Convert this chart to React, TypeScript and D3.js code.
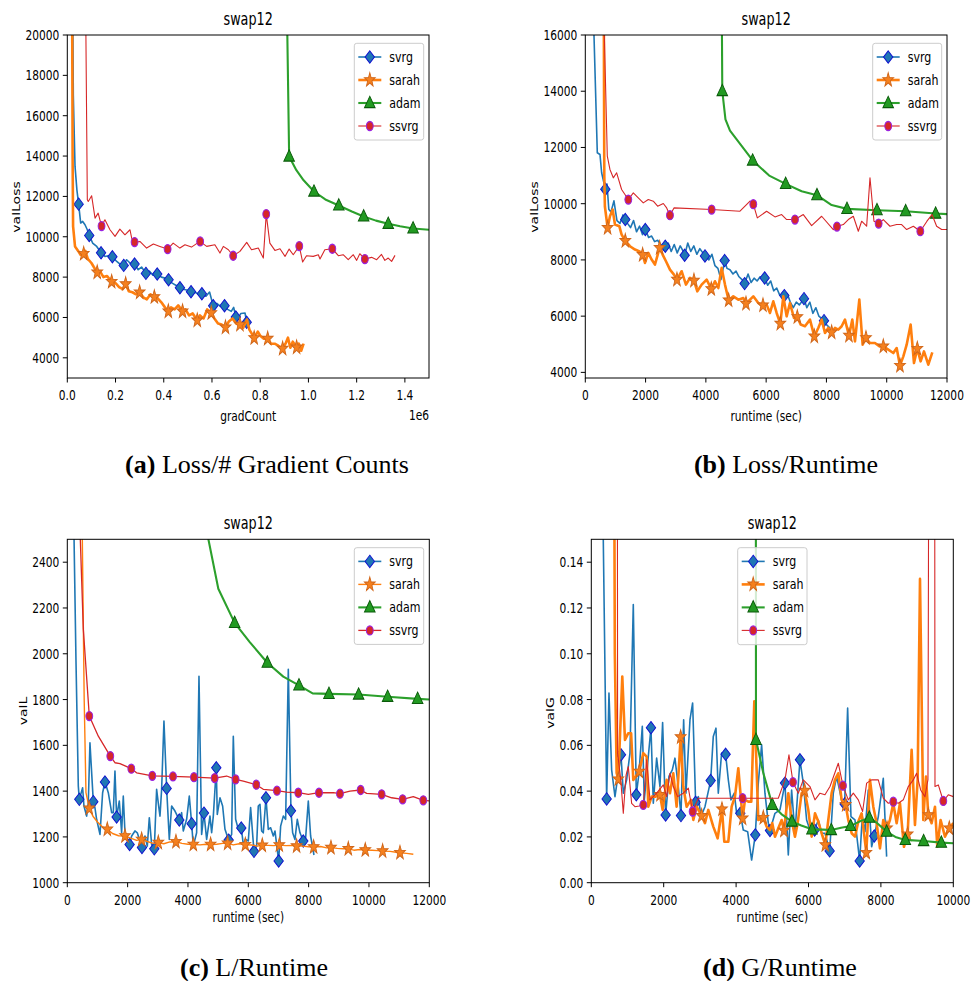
import React from 'react';
import * as d3 from 'd3';

type P = [number, number];

// ---------- Panel (a): valLoss vs gradCount (x in units of 1e6) ----------
const aXTicks = [0, 0.2, 0.4, 0.6, 0.8, 1.0, 1.2, 1.4];
const aYTicks = [4000, 6000, 8000, 10000, 12000, 14000, 16000, 18000, 20000];

const aSvrgLine: P[] = [[0.018, 30000], [0.025, 17000], [0.032, 13500], [0.04, 12300], [0.047, 11617], [0.0555, 10679], [0.0638, 10759], [0.0734, 10595], [0.083, 10348], [0.091, 10066], [0.105, 9690], [0.122, 9521], [0.14, 9208], [0.156, 9026], [0.17, 9060], [0.187, 9010], [0.205, 8778], [0.221, 8615], [0.234, 8581], [0.246, 8862], [0.26, 8697], [0.279, 8647], [0.294, 8367], [0.308, 8500], [0.326, 8185], [0.34, 8300], [0.355, 8100], [0.373, 8152], [0.39, 8000], [0.405, 7950], [0.42, 7871], [0.435, 7700], [0.45, 7600], [0.467, 7475], [0.48, 7400], [0.5, 7350], [0.513, 7277], [0.53, 7250], [0.545, 7150], [0.558, 7178], [0.575, 7050], [0.59, 7260], [0.605, 6584], [0.62, 6700], [0.635, 6550], [0.652, 6584], [0.665, 6400], [0.68, 6300], [0.69, 6500], [0.699, 6023], [0.71, 6000], [0.72, 6200], [0.737, 6221], [0.744, 5759], [0.75, 5700]];
const aSvrgMarks: P[] = [[0.047, 11617], [0.091, 10066], [0.14, 9208], [0.187, 9010], [0.234, 8581], [0.279, 8647], [0.326, 8185], [0.373, 8152], [0.42, 7871], [0.467, 7475], [0.513, 7277], [0.558, 7178], [0.605, 6584], [0.652, 6584], [0.699, 6023], [0.744, 5759]];

const aSarahLine: P[] = [[0.018, 30000], [0.022, 14000], [0.024, 10510], [0.032, 9520], [0.045, 9300], [0.055, 9100], [0.068, 9158], [0.075, 9300], [0.085, 8900], [0.1, 8700], [0.11, 8500], [0.124, 8234], [0.135, 8300], [0.15, 8000], [0.165, 8050], [0.184, 7772], [0.2, 7700], [0.215, 7500], [0.23, 7400], [0.242, 7657], [0.255, 7300], [0.27, 7250], [0.285, 7150], [0.3, 7244], [0.315, 7000], [0.33, 6900], [0.345, 7150], [0.361, 7013], [0.375, 6950], [0.39, 6750], [0.405, 6500], [0.419, 6304], [0.43, 6500], [0.445, 6400], [0.46, 6600], [0.478, 6304], [0.49, 6400], [0.505, 6100], [0.52, 6200], [0.539, 5858], [0.55, 6100], [0.565, 5950], [0.58, 6400], [0.597, 6221], [0.61, 5950], [0.625, 5700], [0.64, 5650], [0.656, 5512], [0.67, 5800], [0.685, 5950], [0.7, 5700], [0.716, 5644], [0.73, 5500], [0.745, 5900], [0.755, 5400], [0.765, 5200], [0.775, 4984], [0.79, 5300], [0.8, 5100], [0.815, 4950], [0.831, 4950], [0.845, 4700], [0.86, 4700], [0.875, 4600], [0.893, 4455], [0.905, 4700], [0.915, 5000], [0.925, 4500], [0.935, 4800], [0.951, 4521], [0.96, 4700], [0.97, 4350], [0.98, 4700]];
const aSarahMarks: P[] = [[0.068, 9158], [0.124, 8234], [0.184, 7772], [0.242, 7657], [0.3, 7244], [0.361, 7013], [0.419, 6304], [0.478, 6304], [0.539, 5858], [0.597, 6221], [0.656, 5512], [0.716, 5644], [0.775, 4984], [0.831, 4950], [0.893, 4455], [0.951, 4521]];

const aAdamLine: P[] = [[0.9, 30000], [0.92, 13977], [0.95, 13300], [0.98, 12800], [1.023, 12244], [1.07, 11850], [1.126, 11551], [1.18, 11250], [1.229, 11007], [1.28, 10800], [1.331, 10644], [1.38, 10520], [1.434, 10413], [1.5, 10350]];
const aAdamMarks: P[] = [[0.92, 13977], [1.023, 12244], [1.126, 11551], [1.229, 11007], [1.331, 10644], [1.434, 10413]];

const aSsvrgLine: P[] = [[0.07, 30000], [0.083, 11832], [0.087, 11749], [0.101, 12030], [0.115, 10924], [0.128, 11172], [0.142, 10528], [0.156, 10842], [0.177, 10347], [0.198, 10017], [0.218, 10380], [0.239, 10099], [0.26, 10347], [0.267, 9934], [0.279, 9736], [0.301, 9769], [0.329, 9439], [0.357, 9637], [0.384, 9521], [0.416, 9389], [0.439, 9686], [0.467, 9439], [0.488, 9604], [0.515, 9488], [0.55, 9770], [0.578, 9522], [0.612, 9605], [0.633, 9192], [0.647, 9522], [0.668, 9357], [0.688, 9060], [0.716, 9275], [0.744, 9720], [0.764, 9357], [0.792, 9440], [0.813, 8945], [0.825, 11123], [0.84, 9687], [0.861, 9324], [0.882, 9407], [0.903, 9027], [0.92, 9390], [0.937, 9110], [0.962, 9539], [0.976, 8747], [0.992, 9060], [1.02, 9027], [1.041, 9110], [1.048, 8896], [1.068, 9357], [1.099, 9407], [1.124, 9060], [1.144, 9110], [1.165, 8862], [1.186, 9110], [1.2, 8830], [1.213, 9160], [1.234, 8896], [1.262, 8979], [1.283, 8862], [1.303, 9126], [1.317, 8830], [1.331, 8945], [1.345, 8780], [1.359, 9077]];
const aSsvrgMarks: P[] = [[0.142, 10528], [0.279, 9736], [0.416, 9389], [0.551, 9769], [0.688, 9060], [0.825, 11123], [0.962, 9539], [1.099, 9407], [1.234, 8896]];

// ---------- Panel (b): valLoss vs runtime ----------
const bXTicks = [0, 2000, 4000, 6000, 8000, 10000, 12000];
const bYTicks = [4000, 6000, 8000, 10000, 12000, 14000, 16000];

const bSvrgLine: P[] = [[260, 22000], [288, 16000], [398, 11810], [487, 11750], [542, 11100], [664, 10516], [720, 10700], [780, 9800], [850, 9700], [950, 10100], [1050, 9400], [1150, 9300], [1250, 9600], [1327, 9436], [1400, 9300], [1500, 9150], [1600, 9400], [1700, 9000], [1800, 9200], [1900, 8900], [1991, 9080], [2100, 8800], [2200, 8850], [2300, 8650], [2400, 8700], [2500, 8550], [2600, 8350], [2654, 8487], [2750, 8600], [2850, 8300], [2950, 8550], [3050, 8250], [3150, 8500], [3250, 8300], [3296, 8166], [3400, 8600], [3500, 8300], [3600, 8500], [3700, 8200], [3800, 8400], [3900, 8250], [3970, 8142], [4100, 8000], [4200, 8200], [4300, 7800], [4400, 7700], [4500, 7300], [4623, 7976], [4700, 7700], [4800, 7650], [4900, 7500], [5000, 7600], [5100, 7400], [5200, 7300], [5286, 7157], [5400, 7500], [5500, 7200], [5600, 7350], [5700, 7250], [5800, 7400], [5950, 7359], [6050, 7100], [6150, 7250], [6250, 6900], [6350, 7000], [6450, 6750], [6602, 6730], [6700, 6800], [6800, 6500], [6900, 6300], [7000, 6500], [7100, 6400], [7255, 6623], [7350, 6300], [7450, 6500], [7550, 6100], [7650, 6300], [7750, 6000], [7919, 5840], [8000, 5700], [8118, 5580]];
const bSvrgMarks: P[] = [[664, 10516], [1327, 9436], [1991, 9080], [2654, 8487], [3296, 8166], [3970, 8142], [4623, 7976], [5286, 7157], [5950, 7359], [6602, 6730], [7255, 6623], [7919, 5840]];

const bSarahLine: P[] = [[600, 22000], [630, 11000], [650, 9900], [741, 9140], [818, 9555], [907, 9792], [984, 9258], [1128, 9199], [1205, 8900], [1327, 8677], [1482, 8487], [1648, 8368], [1800, 8300], [1902, 8178], [1980, 7893], [2090, 8250], [2200, 8012], [2310, 7834], [2466, 8427], [2566, 8190], [2676, 7953], [2809, 7656], [2942, 7478], [3041, 7300], [3196, 7597], [3340, 7122], [3472, 7359], [3605, 7264], [3716, 6884], [3860, 7122], [4026, 7300], [4180, 6967], [4302, 7240], [4413, 7000], [4523, 7715], [4634, 7122], [4756, 6564], [4910, 6706], [5076, 6587], [5242, 6647], [5331, 6445], [5574, 6706], [5740, 6469], [5895, 6386], [6016, 6410], [6127, 6113], [6237, 6528], [6348, 6113], [6470, 5733], [6569, 6706], [6680, 5994], [6790, 6469], [6923, 5935], [7034, 5970], [7144, 5700], [7288, 5640], [7454, 5876], [7598, 5282], [7730, 5580], [7841, 5876], [7952, 5400], [8062, 5580], [8173, 5424], [8283, 5580], [8394, 5520], [8505, 5640], [8615, 5876], [8748, 5306], [8859, 5876], [8947, 5100], [9091, 6587], [9201, 4985], [9312, 5223], [9445, 5045], [9610, 5045], [9754, 4926], [9887, 4926], [10053, 4807], [10219, 4688], [10330, 4866], [10440, 4238], [10551, 4570], [10662, 4985], [10794, 5700], [10905, 4333], [11015, 4843], [11125, 4392], [11236, 4747], [11380, 4273], [11513, 4713]];
const bSarahMarks: P[] = [[741, 9140], [1327, 8677], [1902, 8178], [2466, 8427], [3041, 7300], [3605, 7264], [4180, 6967], [4756, 6564], [5331, 6445], [5895, 6386], [6470, 5733], [7034, 5970], [7598, 5282], [8173, 5424], [8748, 5306], [9312, 5223], [9887, 4926], [10440, 4238], [11015, 4843]];

const bAdamLine: P[] = [[4500, 22000], [4545, 14006], [4650, 13000], [4800, 12600], [5021, 12285], [5300, 11900], [5552, 11537], [6100, 11000], [6647, 10706], [7177, 10440], [7686, 10303], [8173, 9950], [8682, 9816], [9677, 9768], [10628, 9733], [11623, 9650], [12000, 9630]];
const bAdamMarks: P[] = [[4545, 14006], [5552, 11537], [6647, 10706], [7686, 10303], [8682, 9816], [9677, 9768], [10628, 9733], [11623, 9650]];

const bSsvrgLine: P[] = [[615, 22000], [620, 16500], [730, 11691], [818, 11217], [929, 10920], [1040, 11098], [1205, 10504], [1427, 10148], [1593, 10386], [1758, 10208], [1924, 10030], [2090, 10148], [2256, 10089], [2400, 9910], [2588, 10006], [2699, 9850], [2809, 9590], [2942, 9850], [4192, 9792], [5132, 9733], [5464, 10089], [5574, 9982], [5707, 9496], [6016, 9733], [6293, 9530], [6514, 9613], [6680, 9436], [6956, 9436], [7233, 9613], [7509, 9222], [7841, 9553], [8228, 9080], [8350, 9187], [8560, 9258], [8726, 9436], [8892, 9553], [9058, 9021], [9168, 9377], [9334, 9198], [9445, 10920], [9577, 9377], [9732, 9294], [9887, 9436], [10108, 9198], [10330, 9258], [10495, 9258], [10662, 9080], [10883, 9198], [11115, 9021], [11335, 9377], [11502, 9613], [11656, 9198], [11822, 9080], [12000, 9080]];
const bSsvrgMarks: P[] = [[1427, 10148], [2809, 9590], [4192, 9792], [5574, 9982], [6956, 9436], [8350, 9187], [9732, 9294], [11115, 9021]];

// ---------- Panel (c): valL vs runtime ----------
const cXTicks = [0, 2000, 4000, 6000, 8000, 10000, 12000];
const cYTicks = [1000, 1200, 1400, 1600, 1800, 2000, 2200, 2400];

const cSvrgLine: P[] = [[200, 2700], [287, 1975], [365, 1422], [398, 1364], [508, 1415], [552, 1335], [641, 1291], [696, 1349], [751, 1611], [862, 1354], [917, 1327], [972, 1277], [1083, 1211], [1171, 1393], [1249, 1441], [1359, 1393], [1470, 1306], [1525, 1306], [1580, 1488], [1635, 1287], [1724, 1357], [1801, 1218], [1856, 1378], [1912, 1218], [2066, 1167], [2133, 1204], [2243, 1226], [2320, 1218], [2475, 1154], [2519, 1175], [2575, 1204], [2652, 1160], [2718, 1284], [2796, 1167], [2884, 1148], [2961, 1408], [3028, 1335], [3072, 1291], [3127, 1408], [3204, 1706], [3293, 1412], [3381, 1189], [3459, 1335], [3569, 1313], [3713, 1274], [3790, 1306], [3845, 1226], [3956, 1277], [4044, 1378], [4122, 1258], [4177, 1160], [4287, 1218], [4365, 1902], [4453, 1211], [4530, 1304], [4619, 1189], [4729, 1291], [4785, 1218], [4840, 1291], [4939, 1502], [4972, 1298], [5061, 1371], [5149, 1335], [5227, 1233], [5348, 1186], [5448, 1211], [5503, 1640], [5580, 1277], [5669, 1233], [5768, 1239], [5834, 1167], [5912, 1189], [6000, 1182], [6077, 1328], [6188, 1137], [6276, 1160], [6331, 1335], [6387, 1342], [6442, 1226], [6497, 1218], [6586, 1371], [6663, 1233], [6740, 1240], [6829, 1204], [6884, 1226], [7006, 1095], [7072, 1247], [7160, 1291], [7238, 1277], [7326, 1932], [7414, 1314], [7470, 1218], [7547, 1189], [7624, 1277], [7713, 1218], [7823, 1182], [7901, 1197], [7989, 1357], [8066, 1204], [8177, 1121]];
const cSvrgMarks: P[] = [[398, 1364], [862, 1354], [1249, 1440], [1635, 1287], [2066, 1167], [2475, 1154], [2884, 1148], [3293, 1412], [3713, 1274], [4122, 1258], [4530, 1304], [4939, 1502], [5348, 1186], [5768, 1239], [6188, 1137], [6586, 1371], [7006, 1095], [7414, 1314], [7823, 1182]];

const cSarahLine: P[] = [[480, 2700], [560, 1800], [619, 1393], [729, 1325], [850, 1290], [1000, 1265], [1150, 1245], [1326, 1233], [1500, 1215], [1700, 1205], [1912, 1204], [2100, 1195], [2300, 1185], [2464, 1189], [2650, 1180], [2850, 1172], [3017, 1175], [3200, 1170], [3400, 1178], [3602, 1179], [3800, 1172], [4000, 1168], [4177, 1167], [4400, 1165], [4600, 1168], [4751, 1167], [4950, 1168], [5150, 1172], [5315, 1172], [5500, 1165], [5700, 1170], [5901, 1166], [6100, 1165], [6300, 1160], [6464, 1163], [6650, 1163], [6850, 1162], [7028, 1164], [7250, 1162], [7450, 1163], [7602, 1160], [7800, 1160], [8000, 1157], [8166, 1156], [8400, 1158], [8600, 1152], [8740, 1153], [8950, 1150], [9150, 1148], [9315, 1148], [9500, 1142], [9700, 1145], [9878, 1143], [10100, 1142], [10300, 1140], [10453, 1138], [10700, 1137], [10900, 1133], [11028, 1131], [11250, 1128], [11470, 1124]];
const cSarahMarks: P[] = [[729, 1325], [1326, 1233], [1912, 1204], [2464, 1189], [3017, 1175], [3602, 1179], [4177, 1167], [4751, 1167], [5315, 1172], [5901, 1166], [6464, 1163], [7028, 1164], [7602, 1160], [8166, 1156], [8740, 1153], [9315, 1148], [9878, 1143], [10453, 1138], [11028, 1131]];

const cAdamLine: P[] = [[4600, 2560], [4674, 2502], [5006, 2284], [5547, 2135], [6055, 2050], [6630, 1961], [7160, 1900], [7680, 1862], [8133, 1827], [8674, 1825], [9657, 1822], [10619, 1812], [11613, 1803], [12000, 1800]];
const cAdamMarks: P[] = [[5547, 2135], [6630, 1961], [7680, 1862], [8674, 1825], [9657, 1822], [10619, 1812], [11613, 1803]];

const cSsvrgLine: P[] = [[380, 2700], [530, 2110], [729, 1728], [1028, 1640], [1425, 1553], [1580, 1524], [1746, 1520], [2122, 1498], [2298, 1480], [2818, 1467], [3503, 1464], [4199, 1461], [4884, 1457], [5282, 1466], [5580, 1451], [5834, 1444], [6265, 1428], [6497, 1408], [6950, 1402], [7271, 1396], [7657, 1393], [7989, 1386], [8343, 1393], [8818, 1393], [9039, 1389], [9370, 1400], [9724, 1405], [9923, 1390], [10420, 1386], [10751, 1371], [11116, 1364], [11470, 1376], [11801, 1360], [12000, 1357]];
const cSsvrgMarks: P[] = [[729, 1728], [1425, 1553], [2122, 1498], [2818, 1467], [3503, 1464], [4199, 1461], [4884, 1457], [5580, 1451], [6265, 1428], [6950, 1402], [7657, 1393], [8343, 1393], [9039, 1389], [9724, 1405], [10420, 1386], [11116, 1364], [11801, 1360]];

// ---------- Panel (d): valG vs runtime ----------
const dXTicks = [0, 2000, 4000, 6000, 8000, 10000];
const dYTicks = [0, 0.02, 0.04, 0.06, 0.08, 0.1, 0.12, 0.14];

const dSvrgLine: P[] = [[300, 0.2], [331, 0.15], [424, 0.0366], [488, 0.0828], [562, 0.0493], [654, 0.0376], [746, 0.0478], [820, 0.0559], [884, 0.0391], [976, 0.0449], [1068, 0.0566], [1160, 0.1215], [1243, 0.0384], [1317, 0.0478], [1409, 0.0683], [1464, 0.0362], [1648, 0.0677], [1713, 0.0347], [1805, 0.0544], [1897, 0.042], [1970, 0.07], [2053, 0.0296], [2145, 0.0464], [2238, 0.0493], [2311, 0.0544], [2403, 0.042], [2477, 0.0293], [2551, 0.0712], [2615, 0.0391], [2726, 0.0712], [2799, 0.0785], [2882, 0.0351], [2956, 0.0376], [3029, 0.0289], [3140, 0.0332], [3297, 0.0446], [3370, 0.0639], [3444, 0.0675], [3508, 0.0391], [3600, 0.0566], [3711, 0.0561], [3785, 0.0449], [3858, 0.0362], [3950, 0.0391], [4015, 0.0303], [4116, 0.0303], [4199, 0.023], [4319, 0.0223], [4429, 0.0099], [4530, 0.0209], [4613, 0.0435], [4705, 0.0602], [4797, 0.0391], [4890, 0.026], [4936, 0.0228], [5074, 0.0303], [5212, 0.0318], [5350, 0.0435], [5442, 0.0121], [5534, 0.0405], [5626, 0.0216], [5764, 0.0537], [5856, 0.0435], [5948, 0.0274], [6041, 0.023], [6169, 0.023], [6271, 0.0274], [6363, 0.0216], [6455, 0.0216], [6584, 0.0139], [6685, 0.0391], [6777, 0.0464], [6915, 0.0362], [6998, 0.0344], [7081, 0.0763], [7173, 0.0289], [7284, 0.0274], [7413, 0.0095], [7486, 0.0289], [7560, 0.0223], [7652, 0.0405], [7744, 0.0157], [7818, 0.0204], [7928, 0.0289], [8066, 0.0456], [8158, 0.0114]];
const dSvrgMarks: P[] = [[424, 0.0366], [820, 0.0559], [1243, 0.0384], [1648, 0.0677], [2053, 0.0296], [2477, 0.0293], [2882, 0.0351], [3297, 0.0446], [3711, 0.0561], [4116, 0.0303], [4530, 0.0209], [4936, 0.0228], [5350, 0.0435], [5764, 0.0537], [6169, 0.023], [6584, 0.0139], [6998, 0.0344], [7413, 0.0095], [7818, 0.0204]];

const dSarahLine: P[] = [[610, 0.3], [650, 0.1], [700, 0.048], [746, 0.0452], [856, 0.0901], [930, 0.0624], [1022, 0.0653], [1100, 0.0653], [1160, 0.0449], [1326, 0.0486], [1436, 0.0566], [1529, 0.0551], [1575, 0.0332], [1667, 0.0376], [1780, 0.0376], [1897, 0.0384], [1970, 0.0318], [2081, 0.0449], [2173, 0.0391], [2265, 0.0478], [2357, 0.0332], [2468, 0.0636], [2541, 0.042], [2633, 0.0332], [2753, 0.0362], [2818, 0.0274], [2910, 0.0332], [3048, 0.0292], [3140, 0.026], [3232, 0.0318], [3370, 0.0245], [3490, 0.0194], [3610, 0.0321], [3674, 0.0179], [3785, 0.0179], [3877, 0.0332], [3969, 0.0376], [4061, 0.05], [4180, 0.0281], [4245, 0.0362], [4337, 0.0354], [4420, 0.0354], [4503, 0.0792], [4613, 0.0274], [4751, 0.0284], [4843, 0.0245], [4936, 0.023], [5000, 0.026], [5074, 0.0201], [5166, 0.0238], [5258, 0.0274], [5322, 0.0228], [5442, 0.0391], [5534, 0.0274], [5626, 0.0201], [5700, 0.026], [5810, 0.0391], [5893, 0.0402], [5994, 0.0318], [6087, 0.0201], [6179, 0.0303], [6271, 0.0267], [6363, 0.0216], [6464, 0.0165], [6547, 0.0274], [6639, 0.0391], [6731, 0.0449], [6823, 0.0478], [6915, 0.0362], [7026, 0.034], [7099, 0.0274], [7192, 0.0216], [7284, 0.0201], [7376, 0.0267], [7468, 0.0303], [7597, 0.0131], [7698, 0.0449], [7790, 0.0332], [7882, 0.026], [7974, 0.015], [8066, 0.0274], [8168, 0.0238], [8250, 0.0274], [8342, 0.0347], [8435, 0.026], [8527, 0.0347], [8637, 0.0157], [8738, 0.0211], [8849, 0.058], [8941, 0.0252], [9015, 0.0449], [9080, 0.1327], [9171, 0.0274], [9245, 0.0464], [9309, 0.0296], [9401, 0.026], [9494, 0.0332], [9558, 0.0157], [9650, 0.0274], [9770, 0.0201], [9890, 0.0238], [10000, 0.026]];
const dSarahMarks: P[] = [[746, 0.0452], [1326, 0.0486], [1897, 0.0384], [2468, 0.0636], [3048, 0.0292], [3610, 0.0321], [4180, 0.0281], [4751, 0.0284], [5322, 0.0228], [5893, 0.0402], [6464, 0.0165], [7026, 0.034], [7597, 0.0131], [8168, 0.0238], [8738, 0.0211], [9309, 0.0296], [9890, 0.0238]];

const dAdamLine: P[] = [[4545, 0.2], [4549, 0.0624], [4750, 0.048], [5000, 0.034], [5250, 0.03], [5543, 0.0267], [5800, 0.025], [6096, 0.0233], [6400, 0.0232], [6630, 0.023], [6900, 0.024], [7164, 0.0248], [7450, 0.027], [7680, 0.0284], [7900, 0.026], [8158, 0.0223], [8400, 0.02], [8674, 0.0187], [9180, 0.0182], [9669, 0.0175], [10000, 0.0172]];
const dAdamMarks: P[] = [[4549, 0.0624], [5000, 0.034], [5543, 0.0267], [6096, 0.0233], [6630, 0.023], [7164, 0.0248], [7680, 0.0284], [8158, 0.0223], [8674, 0.0187], [9180, 0.0182], [9669, 0.0175]];

const dSsvrgLine: P[] = [[715, 0.3], [727, 0.0566], [810, 0.0456], [884, 0.0303], [960, 0.047], [1022, 0.0507], [1114, 0.0347], [1206, 0.0332], [1320, 0.0335], [1436, 0.034], [1529, 0.0537], [1621, 0.0362], [1713, 0.0376], [1805, 0.0391], [1989, 0.0427], [2081, 0.0376], [2173, 0.0478], [2265, 0.042], [2385, 0.0376], [2541, 0.0391], [2680, 0.0413], [2799, 0.0311], [2956, 0.0369], [4180, 0.0369], [5166, 0.0369], [5350, 0.0449], [5460, 0.0559], [5571, 0.0439], [5718, 0.0391], [5856, 0.0449], [6041, 0.042], [6179, 0.0362], [6317, 0.0391], [6455, 0.0384], [6593, 0.042], [6823, 0.0522], [6952, 0.0424], [7099, 0.0362], [7238, 0.0391], [7376, 0.0362], [7495, 0.0311], [7606, 0.0435], [7744, 0.0449], [7928, 0.0449], [8066, 0.0369], [8204, 0.0347], [8343, 0.0354], [8481, 0.0347], [8619, 0.0362], [8757, 0.042], [8895, 0.0449], [8987, 0.0478], [9098, 0.0405], [9217, 0.0376], [9300, 0.045], [9337, 0.3], [9480, 0.3], [9494, 0.042], [9586, 0.0427], [9724, 0.0357], [9862, 0.0384], [10000, 0.0376]];
const dSsvrgMarks: P[] = [[1436, 0.034], [2799, 0.0311], [4180, 0.0369], [5571, 0.0439], [6952, 0.0424], [8343, 0.0354], [9724, 0.0357]];

// ---------- drawing ----------
const SX = 0.76; // horizontal squeeze of the original figure
const FONT = 'DejaVu Sans';
const C = { svrg: '#1f77b4', sarah: '#ff7f0e', adam: '#2ca02c', ssvrg: '#d62728' };

type MarkerKind = 'diamond' | 'star' | 'tri' | 'circle';
type Series = { name: string; line: P[]; marks: P[]; color: string; lw: number; marker: MarkerKind; fill: string; edge: string };

function starPath(R: number, r: number) {
  const pts: string[] = [];
  for (let i = 0; i < 10; i++) {
    const a = -Math.PI / 2 + (i * Math.PI) / 5;
    const rr = i % 2 === 0 ? R : r;
    pts.push(`${(rr * Math.cos(a)).toFixed(2)},${(rr * Math.sin(a)).toFixed(2)}`);
  }
  return 'M' + pts.join('L') + 'Z';
}
const MARKER_PATHS: Record<MarkerKind, string> = {
  diamond: 'M0,-6.2L6.2,0L0,6.2L-6.2,0Z',
  star: starPath(7.4, 3),
  tri: 'M0,-6.8L7,4.6L-7,4.6Z',
  circle: '',
};

function Marker({ x, y, s }: { x: number; y: number; s: Series }) {
  const tr = `translate(${x},${y}) scale(${SX},1)`;
  if (s.marker === 'circle') {
    return <circle transform={tr} r={4.5} fill={s.fill} stroke={s.edge} strokeWidth={1.3} />;
  }
  return <path transform={tr} d={MARKER_PATHS[s.marker]} fill={s.fill} stroke={s.edge} strokeWidth={1.1} strokeLinejoin="miter" />;
}

function T({ x, y, anchor = 'middle', size = 14, rotate = 0, children }: any) {
  return (
    <text
      transform={`translate(${x},${y}) scale(${SX},1)${rotate ? ` rotate(${rotate})` : ''}`}
      textAnchor={anchor}
      fontSize={size}
      fontFamily={FONT}
      fill="#000"
    >
      {children}
    </text>
  );
}

type PanelCfg = {
  id: string; left: number; right: number; top: number; bottom: number;
  xDomain: [number, number]; yDomain: [number, number];
  xTicks: number[]; yTicks: number[]; xFmt: (v: number) => string; yFmt: (v: number) => string;
  xLabel: string; yLabel: string; yLabelX: number; yLabelY: number; xLabelY: number;
  offset?: string; legend: { x: number; y: number; w: number; h: number };
  series: Series[];
};

function Panel({ cfg }: { cfg: PanelCfg }) {
  const x = d3.scaleLinear().domain(cfg.xDomain).range([cfg.left, cfg.right]);
  const y = d3.scaleLinear().domain(cfg.yDomain).range([cfg.bottom, cfg.top]);
  const line = d3.line<P>().x((d) => x(d[0])).y((d) => y(d[1]));
  const clip = `clip-${cfg.id}`;
  const cx = (cfg.left + cfg.right) / 2;
  const lg = cfg.legend;
  return (
    <g>
      <defs>
        <clipPath id={clip}>
          <rect x={cfg.left} y={cfg.top} width={cfg.right - cfg.left} height={cfg.bottom - cfg.top} />
        </clipPath>
      </defs>
      <g clipPath={`url(#${clip})`}>
        {cfg.series.map((s) => (
          <g key={s.name}>
            <path d={line(s.line) || ''} fill="none" stroke={s.color} strokeWidth={s.lw} strokeLinejoin="round" />
            {s.marks.map((m, i) => (
              <Marker key={i} x={x(m[0])} y={y(m[1])} s={s} />
            ))}
          </g>
        ))}
      </g>
      <rect x={cfg.left} y={cfg.top} width={cfg.right - cfg.left} height={cfg.bottom - cfg.top} fill="none" stroke="#000" strokeWidth={1} />
      {cfg.xTicks.map((t) => (
        <g key={'x' + t}>
          <line x1={x(t)} x2={x(t)} y1={cfg.bottom} y2={cfg.bottom + 4.5} stroke="#000" strokeWidth={1} />
          <T x={x(t)} y={cfg.bottom + 22}>{cfg.xFmt(t)}</T>
        </g>
      ))}
      {cfg.yTicks.map((t) => (
        <g key={'y' + t}>
          <line x1={cfg.left - 4.5} x2={cfg.left} y1={y(t)} y2={y(t)} stroke="#000" strokeWidth={1} />
          <T x={cfg.left - 8} y={y(t) + 5} anchor="end">{cfg.yFmt(t)}</T>
        </g>
      ))}
      <T x={cx} y={cfg.top - 10} size={16.8}>swap12</T>
      <T x={cx} y={cfg.xLabelY}>{cfg.xLabel}</T>
      <T x={cfg.yLabelX} y={cfg.yLabelY} rotate={-90}>{cfg.yLabel}</T>
      {cfg.offset && <T x={cfg.right} y={cfg.bottom + 42} anchor="end">{cfg.offset}</T>}
      <rect x={lg.x} y={lg.y} width={lg.w} height={lg.h} rx={2.5} fill="#fff" fillOpacity={0.8} stroke="#cccccc" strokeWidth={1} />
      {cfg.series.map((s, i) => {
        const ry = lg.y + 13.7 + i * 23;
        return (
          <g key={'lg' + s.name}>
            <line x1={lg.x + 4} x2={lg.x + 27} y1={ry} y2={ry} stroke={s.color} strokeWidth={s.lw} />
            <Marker x={lg.x + 15.5} y={ry} s={s} />
            <T x={lg.x + 35} y={ry + 5} anchor="start" size={14.5}>{s.name}</T>
          </g>
        );
      })}
    </g>
  );
}

function mk(line: P[], marks: P[], name: keyof typeof C, lw: number): Series {
  const spec: Record<string, { marker: MarkerKind; fill: string; edge: string }> = {
    svrg: { marker: 'diamond', fill: '#1f77b4', edge: '#1010d0' },
    sarah: { marker: 'star', fill: '#f5801e', edge: '#d0661a' },
    adam: { marker: 'tri', fill: '#229a22', edge: '#0a5a0a' },
    ssvrg: { marker: 'circle', fill: '#d62728', edge: '#9a22e0' },
  };
  return { name, line, marks, color: C[name], lw, ...spec[name] };
}

const fmtInt = (v: number) => String(v);

const panels: PanelCfg[] = [
  {
    id: 'a', left: 67.3, right: 429, top: 35, bottom: 378,
    xDomain: [0, 1.5], yDomain: [3000, 20000], xTicks: aXTicks, yTicks: aYTicks,
    xFmt: (v) => v.toFixed(1), yFmt: fmtInt,
    xLabel: 'gradCount', yLabel: 'valLoss', yLabelX: 20, yLabelY: 207, xLabelY: 421, offset: '1e6',
    legend: { x: 354.3, y: 43.3, w: 69.4, h: 96.7 },
    series: [mk(aSvrgLine, aSvrgMarks, 'svrg', 1.6), mk(aSarahLine, aSarahMarks, 'sarah', 2.6), mk(aAdamLine, aAdamMarks, 'adam', 2.1), mk(aSsvrgLine, aSsvrgMarks, 'ssvrg', 1.1)],
  },
  {
    id: 'b', left: 585.3, right: 947, top: 35, bottom: 378,
    xDomain: [0, 12000], yDomain: [3800, 16000], xTicks: bXTicks, yTicks: bYTicks,
    xFmt: fmtInt, yFmt: fmtInt,
    xLabel: 'runtime (sec)', yLabel: 'valLoss', yLabelX: 538, yLabelY: 207, xLabelY: 421,
    legend: { x: 872.7, y: 43.3, w: 69, h: 96.7 },
    series: [mk(bSvrgLine, bSvrgMarks, 'svrg', 1.6), mk(bSarahLine, bSarahMarks, 'sarah', 2.6), mk(bAdamLine, bAdamMarks, 'adam', 2.1), mk(bSsvrgLine, bSsvrgMarks, 'ssvrg', 1.1)],
  },
  {
    id: 'c', left: 67.3, right: 429.3, top: 539.3, bottom: 882.7,
    xDomain: [0, 12000], yDomain: [1000, 2500], xTicks: cXTicks, yTicks: cYTicks,
    xFmt: fmtInt, yFmt: fmtInt,
    xLabel: 'runtime (sec)', yLabel: 'valL', yLabelX: 27, yLabelY: 711, xLabelY: 922,
    legend: { x: 354.3, y: 547.7, w: 69.4, h: 96.7 },
    series: [mk(cSvrgLine, cSvrgMarks, 'svrg', 1.6), mk(cSarahLine, cSarahMarks, 'sarah', 1.4), mk(cAdamLine, cAdamMarks, 'adam', 2.1), mk(cSsvrgLine, cSsvrgMarks, 'ssvrg', 1.3)],
  },
  {
    id: 'd', left: 591.3, right: 953.3, top: 539.3, bottom: 882.7,
    xDomain: [0, 10000], yDomain: [0, 0.15], xTicks: dXTicks, yTicks: dYTicks,
    xFmt: fmtInt, yFmt: (v) => v.toFixed(2),
    xLabel: 'runtime (sec)', yLabel: 'valG', yLabelX: 554, yLabelY: 713, xLabelY: 922,
    legend: { x: 737.7, y: 547.7, w: 69.3, h: 97 },
    series: [mk(dSvrgLine, dSvrgMarks, 'svrg', 1.6), mk(dSarahLine, dSarahMarks, 'sarah', 2.6), mk(dAdamLine, dAdamMarks, 'adam', 2.1), mk(dSsvrgLine, dSsvrgMarks, 'ssvrg', 1.1)],
  },
];

const captions = [
  { tag: '(a)', text: ' Loss/# Gradient Counts', x: 267, y: 473 },
  { tag: '(b)', text: ' Loss/Runtime', x: 786, y: 473 },
  { tag: '(c)', text: ' L/Runtime', x: 254, y: 976 },
  { tag: '(d)', text: ' G/Runtime', x: 780, y: 976 },
];

export default function App() {
  return (
    <svg width={971} height={981} style={{ position: 'absolute', left: 0, top: 0, background: '#fff' }}>
      <rect width={971} height={981} fill="#fff" />
      {panels.map((p) => (
        <Panel key={p.id} cfg={p} />
      ))}
      {captions.map((c) => (
        <text key={c.tag} x={c.x} y={c.y} textAnchor="middle" fontFamily="Liberation Serif" fontSize={26} fill="#000">
          <tspan fontWeight="bold">{c.tag}</tspan>
          {c.text}
        </text>
      ))}
    </svg>
  );
}
